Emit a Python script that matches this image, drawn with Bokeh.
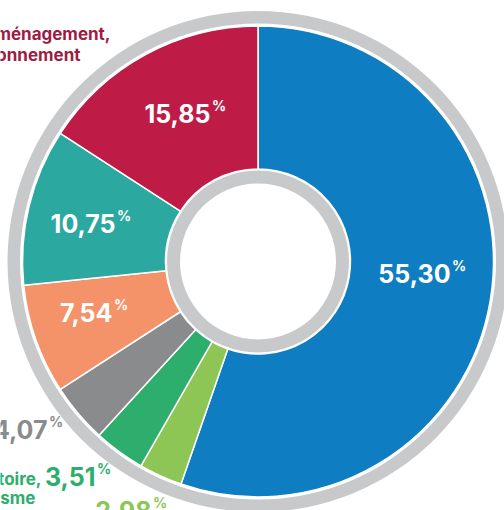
import math
from bokeh.plotting import figure
from bokeh.models import Range1d, ColumnDataSource
from bokeh.core.properties import value
from bokeh.embed import file_html
from bokeh.resources import INLINE

# ---- data ----
shares = [55.30, 2.98, 3.51, 4.07, 7.54, 10.75, 15.85]
labels = ["55,30", "2,98", "3,51", "4,07", "7,54", "10,75", "15,85"]
colors = ["#0F7DC2", "#8DC655", "#2EAE6C", "#8A8B8D", "#F4936A", "#2BA89F", "#BE1C47"]
label_colors = ["#FFFFFF", "#8DC655", "#2EAE6C", "#8A8B8D", "#FFFFFF", "#FFFFFF", "#FFFFFF"]

# ---- layout (screen pixels, y downward from the top) ----
W, H = 504, 510
CX_S, CY_S = 257.5, 261.0
R_IN, R_OUT = 92.5, 235.5
# label anchor = right end of the number, relative to the donut centre
label_offsets = [(192.5, 12), (-106.5, 249), (-162.5, 215), (-210.5, 168),
                 (-145.5, 51), (-142.5, -38), (-47.5, -148)]
FONT = value("Inter")


def ys(y_screen):
    return H - y_screen


CX, CY = CX_S, ys(CY_S)

p = figure(width=W, height=H, output_backend="svg", toolbar_location=None,
           x_range=Range1d(0, W), y_range=Range1d(0, H), min_border=0)
p.axis.visible = False
p.grid.visible = False
p.outline_line_color = None
p.background_fill_color = "white"
p.border_fill_color = "white"

# outer grey ring
p.annulus(x=[CX], y=[CY], inner_radius=238, outer_radius=250.5,
          fill_color="#C8C9CB", line_color=None)

# wedges, clockwise from top
total = sum(shares)
starts, ends = [], []
cum = 0.0
for s in shares:
    starts.append(math.pi / 2 - 2 * math.pi * cum / total)
    cum += s
    ends.append(math.pi / 2 - 2 * math.pi * cum / total)

src = ColumnDataSource(dict(start=starts, end=ends, color=colors))
p.annular_wedge(x=CX, y=CY, inner_radius=R_IN, outer_radius=R_OUT,
                start_angle="start", end_angle="end", direction="clock",
                fill_color="color", line_color="white", line_width=1.5, source=src)

# inner grey ring
p.annulus(x=[CX], y=[CY], inner_radius=78, outer_radius=91,
          fill_color="#C8C9CB", line_color=None)

# percentage labels: number + superscript %
for lab, col, (dx, dy) in zip(labels, label_colors, label_offsets):
    ax, ay = CX_S + dx, CY_S + dy
    p.text(x=[ax], y=[ys(ay)], text=[lab], text_align="right",
           text_baseline="alphabetic", text_color=col,
           text_font=FONT, text_font_size="25px", text_font_style="bold")
    p.text(x=[ax + 1.5], y=[ys(ay - 8)], text=["%"], text_align="left",
           text_baseline="alphabetic", text_color=col,
           text_font=FONT, text_font_size="14px", text_font_style="bold")

# category captions (partly outside the window, as in the source)
cap = dict(text_baseline="alphabetic", text_font=FONT, text_font_size="17px",
           text_font_style="bold", text_align="right")
p.text(x=[110], y=[ys(33)], text=["Aménagement,"], text_color="#9E1B42", **cap)
p.text(x=[80], y=[ys(54)], text=["environnement"], text_color="#9E1B42", **cap)
p.text(x=[41], y=[ys(478)], text=["Territoire,"], text_color="#2EAE6C", **cap)
p.text(x=[35], y=[ys(497)], text=["tourisme"], text_color="#2EAE6C", **cap)

open("out.html", "w").write(file_html(p, INLINE))
